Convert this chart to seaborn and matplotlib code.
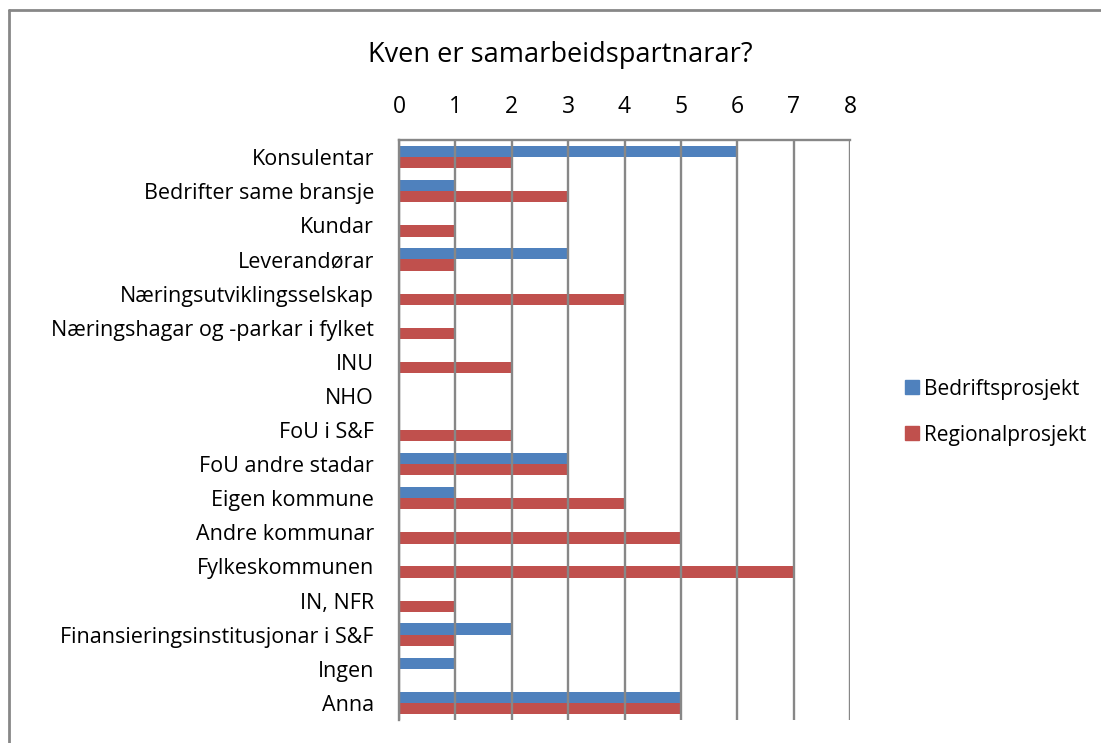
import numpy as np
import pandas as pd
import matplotlib
matplotlib.use('Agg')
import matplotlib.pyplot as plt
import seaborn as sns
from matplotlib.lines import Line2D

# Data
categories = [
    'Konsulentar',
    'Bedrifter same bransje',
    'Kundar',
    'Leverandørar',
    'Næringsutviklingsselskap',
    'Næringshagar og -parkar i fylket',
    'INU',
    'NHO',
    'FoU i S&F',
    'FoU andre stadar',
    'Eigen kommune',
    'Andre kommunar',
    'Fylkeskommunen',
    'IN, NFR',
    'Finansieringsinstitusjonar i S&F',
    'Ingen',
    'Anna',
]
bedrift = [6, 1, 0, 3, 0, 0, 0, 0, 0, 3, 1, 0, 0, 0, 2, 1, 5]
regional = [2, 3, 1, 1, 4, 1, 2, 0, 2, 3, 4, 5, 7, 1, 1, 0, 5]
series = ['Bedriftsprosjekt', 'Regionalprosjekt']
colors = ['#4F81BD', '#C0504D']
xticks = [0, 1, 2, 3, 4, 5, 6, 7, 8]

df = pd.DataFrame({
    'Kategori': categories * 2,
    'Verdi': bedrift + regional,
    'Serie': [series[0]] * len(categories) + [series[1]] * len(categories),
})

sns.set_style('white')
plt.rcParams['font.family'] = ['Open Sans', 'DejaVu Sans']
plt.rcParams['text.color'] = 'black'
plt.rcParams['xtick.color'] = 'black'
plt.rcParams['ytick.color'] = 'black'

fig = plt.figure(figsize=(11.01, 7.43), dpi=100)
ax = fig.add_axes([399 / 1101, 1 - 720 / 743, 451 / 1101, 580 / 743])

sns.barplot(data=df, y='Kategori', x='Verdi', hue='Serie', orient='h',
            palette=colors, width=0.66, saturation=1, ax=ax, legend=False,
            linewidth=0, edgecolor='none')

ax.set_xlim(0, 8)
ax.set_xticks(xticks)
ax.xaxis.tick_top()
ax.tick_params(axis='x', labelsize=16.5, length=0, pad=15)
ax.tick_params(axis='y', labelsize=15.5, length=0, pad=18)
ax.set_xlabel('')
ax.set_ylabel('')
ax.grid(axis='x', color='#878787', linewidth=1.7)
ax.set_axisbelow(False)

for s in ['right', 'bottom']:
    ax.spines[s].set_visible(False)
for s in ['left', 'top']:
    ax.spines[s].set_color('#878787')
    ax.spines[s].set_linewidth(1.7)

fig.text(560 / 1101, 1 - 55 / 743, 'Kven er samarbeidspartnarar?', fontsize=19.5,
         ha='center', va='center', color='black')

handles = [Line2D([0], [0], marker='s', linestyle='', markersize=10,
                  markerfacecolor=c, markeredgecolor=c) for c in colors]
fig.legend(handles, series, loc='center left', bbox_to_anchor=(904 / 1101, 1 - 412 / 743),
           frameon=False, fontsize=15, handlelength=0.8, handletextpad=0.15,
           labelspacing=1.2, borderpad=0, borderaxespad=0)

# outer border
fig.add_artist(Line2D([9 / 1101, 9 / 1101], [0, 1 - 10 / 743], color='#878787', linewidth=2,
                      transform=fig.transFigure))
fig.add_artist(Line2D([9 / 1101, 1], [1 - 10 / 743, 1 - 10 / 743], color='#878787', linewidth=2,
                      transform=fig.transFigure))

fig.savefig('out.png', dpi=100)
